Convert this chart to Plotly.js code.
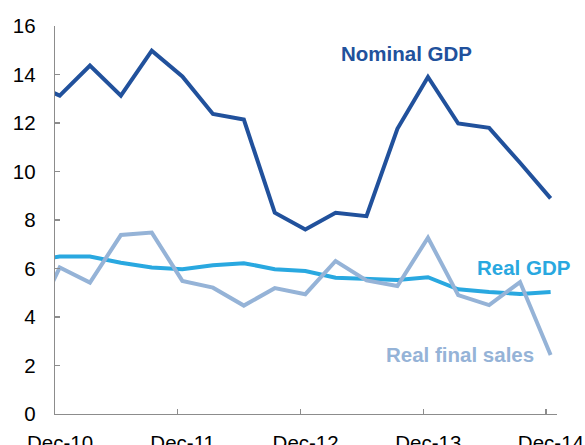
<!DOCTYPE html>
<html>
<head>
<meta charset="utf-8">
<script src="https://cdn.plot.ly/plotly-3.0.1.min.js"></script>
<style>
  html, body { margin:0; padding:0; background:#fff; }
  #chart { width:585px; height:445px; }
</style>
</head>
<body>
<div id="chart"></div>
<script>
// quarterly, mid-month; first point sits just left of the axis and gets clipped
const quarters = [
  "2010-09-15","2010-12-15","2011-03-15","2011-06-15","2011-09-15","2011-12-15",
  "2012-03-15","2012-06-15","2012-09-15","2012-12-15","2013-03-15","2013-06-15",
  "2013-09-15","2013-12-15","2014-03-15","2014-06-15","2014-09-15","2014-12-15"
];
const nominalGdp = [13.7,13.13,14.37,13.13,14.98,13.92,12.37,12.14,8.30,7.61,8.30,8.16,11.76,13.90,11.98,11.80,10.36,8.89];
const realGdp = [6.3,6.49,6.49,6.24,6.04,5.97,6.13,6.22,5.97,5.90,5.62,5.58,5.53,5.64,5.14,5.03,4.95,5.03];
const realFinalSales = [3.4,6.04,5.42,7.38,7.48,5.49,5.21,4.47,5.19,4.94,6.31,5.51,5.28,7.27,4.90,4.49,5.44,2.43];

const tickDates = ["2010-12-01","2011-12-01","2012-12-01","2013-12-01","2014-12-01"];
const tickLabels = ["Dec-10","Dec-11","Dec-12","Dec-13","Dec-14"];
const yTicks = [0,2,4,6,8,10,12,14,16];

const cNominal = "#21519C";
const cReal = "#29A8E0";
const cSales = "#95B3D7";
const axisGrey = "#8C8C8C";
const font = "Liberation Sans, Arial, sans-serif";

const traces = [
  { x:quarters, y:nominalGdp, type:"scatter", mode:"lines", name:"Nominal GDP", line:{color:cNominal, width:4} },
  { x:quarters, y:realGdp, type:"scatter", mode:"lines", name:"Real GDP", line:{color:cReal, width:4} },
  { x:quarters, y:realFinalSales, type:"scatter", mode:"lines", name:"Real final sales", line:{color:cSales, width:4} }
];

// label helper, centred on a paper position
function label(text, x, y, color){
  return { text:"<b>" + text + "</b>", xref:"paper", yref:"paper", x, y,
    xanchor:"center", yanchor:"middle", showarrow:false,
    font:{family:font, size:20.5, color} };
}

const layout = {
  width:585, height:445,
  margin:{l:55, r:28, t:26, b:31},
  paper_bgcolor:"#fff", plot_bgcolor:"#fff",
  showlegend:false,
  font:{family:font, size:20.5, color:"#000"},
  xaxis:{
    type:"date",
    range:["2010-12-01","2015-01-03"],
    tickmode:"array", tickvals:tickDates, ticktext:tickLabels,
    ticks:"inside", ticklen:5, tickcolor:axisGrey, tickwidth:1.3,
    showline:true, linecolor:axisGrey, linewidth:1.3,
    showgrid:false, zeroline:false,
    ticklabelstandoff:10, ticklabelshift:5
  },
  yaxis:{
    range:[0,16],
    tickmode:"array", tickvals:yTicks,
    ticks:"inside", ticklen:5, tickcolor:axisGrey, tickwidth:1.3,
    showline:true, linecolor:axisGrey, linewidth:1.3,
    showgrid:false, zeroline:false,
    ticklabelstandoff:14
  },
  annotations:[
    label("Nominal GDP", 0.701, 0.928, cNominal),
    label("Real GDP", 0.933, 0.377, cReal),
    label("Real final sales", 0.806, 0.154, cSales)
  ]
};

Plotly.newPlot("chart", traces, layout, {displayModeBar:false, staticPlot:true});
</script>
</body>
</html>
